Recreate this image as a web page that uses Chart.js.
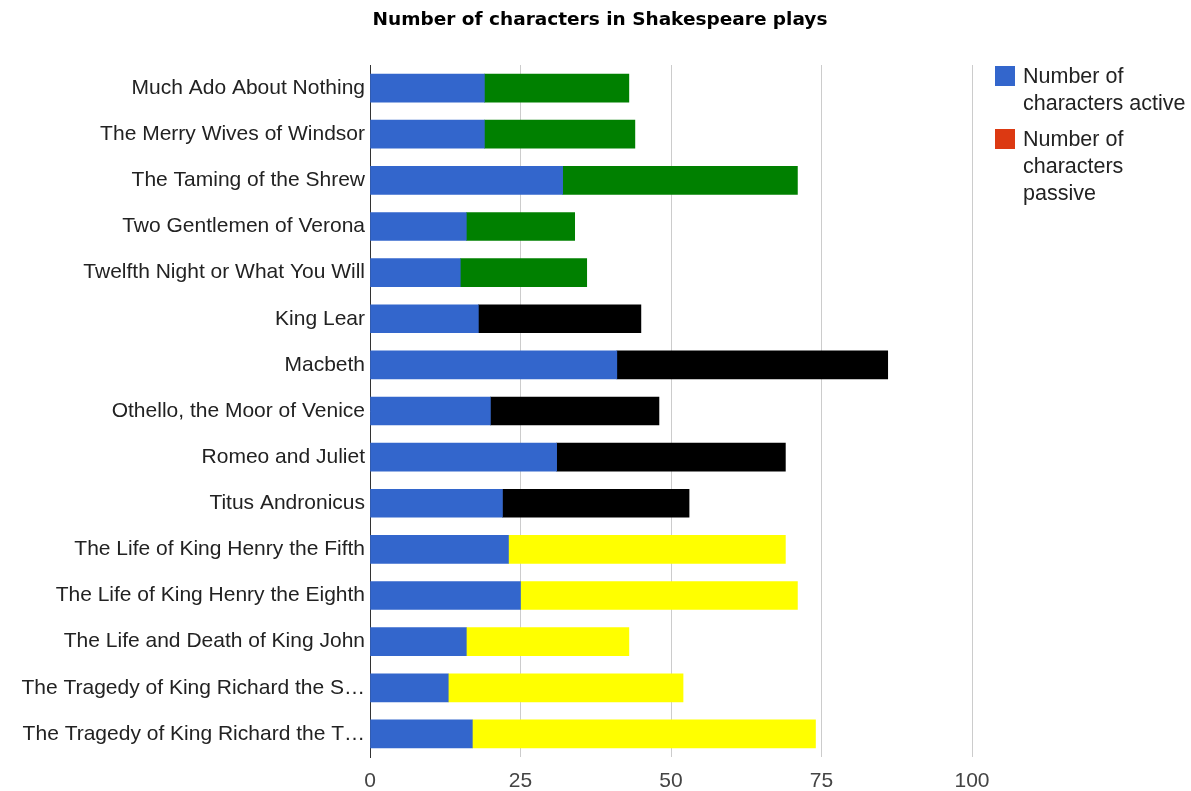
<!DOCTYPE html>
<html>
<head>
<meta charset="utf-8">
<script src="https://cdn.jsdelivr.net/npm/chart.js@4"></script>
<style>
  html, body { margin: 0; padding: 0; background: #fff; }
  #wrap { position: relative; width: 1191px; height: 791px; }
  #title {
    position: absolute; left: 300px; width: 600px; top: 7px; text-align: center;
    font-family: "DejaVu Sans", Verdana, sans-serif; font-weight: bold; font-size: 18.5px;
    line-height: 24px; color: #000;
  }
  #legend {
    position: absolute; left: 995px; top: 63px;
    font-family: "Liberation Sans", Arial, sans-serif; font-size: 21.5px; color: #222;
    line-height: 27px;
  }
  .item { display: flex; align-items: flex-start; margin-bottom: 9px; }
  .swatch { width: 20px; height: 20px; margin: 3px 8px 0 0; flex: none; }
</style>
</head>
<body>
<div id="wrap">
  <canvas id="chart" width="1191" height="791"></canvas>
  <div id="title">Number of characters in Shakespeare plays</div>
  <div id="legend">
    <div class="item"><span class="swatch" style="background:#3366cc"></span><span>Number of<br>characters active</span></div>
    <div class="item"><span class="swatch" style="background:#dc3912"></span><span>Number of<br>characters<br>passive</span></div>
  </div>
</div>
<script>
"use strict";

const plays = [
  "Much Ado About Nothing",
  "The Merry Wives of Windsor",
  "The Taming of the Shrew",
  "Two Gentlemen of Verona",
  "Twelfth Night or What You Will",
  "King Lear",
  "Macbeth",
  "Othello, the Moor of Venice",
  "Romeo and Juliet",
  "Titus Andronicus",
  "The Life of King Henry the Fifth",
  "The Life of King Henry the Eighth",
  "The Life and Death of King John",
  "The Tragedy of King Richard the Second",
  "The Tragedy of King Richard the Third",
];
const genres = [
  "comedy", "comedy", "comedy", "comedy", "comedy",
  "tragedy", "tragedy", "tragedy", "tragedy", "tragedy",
  "history", "history", "history", "history", "history",
];
const active = [19, 19, 32, 16, 15, 18, 41, 20, 31, 22, 23, 25, 16, 13, 17];
const passive = [24, 25, 39, 18, 21, 27, 45, 28, 38, 31, 46, 46, 27, 39, 57];
const xTicks = [0, 25, 50, 75, 100];

// genre -> bar colour for the passive segment
const GENRE_COLOR = { comedy: "#008000", tragedy: "#000000", history: "#ffff00" };

const FONT = "'Liberation Sans', Arial, sans-serif";

new Chart(document.getElementById("chart"), {
  type: "bar",
  data: {
    labels: plays,
    datasets: [
      {
        label: "Number of characters active",
        data: active,
        backgroundColor: "#3366cc",
      },
      {
        label: "Number of characters passive",
        data: passive,
        backgroundColor: genres.map((g) => GENRE_COLOR[g]),
      },
    ],
  },
  options: {
    indexAxis: "y",
    responsive: false,
    animation: false,
    barThickness: 28,
    layout: { padding: { left: 0, right: 219, top: 65, bottom: 0 } },
    scales: {
      x: {
        stacked: true,
        min: 0,
        max: 100,
        afterBuildTicks: (s) => { s.ticks = xTicks.map((v) => ({ value: v })); },
        afterFit: (s) => { s.height = 34; },
        grid: {
          drawTicks: false,
          color: (c) => (c.tick && c.tick.value === 0 ? "rgba(0,0,0,0)" : "#cccccc"),
        },
        border: { display: false },
        ticks: { color: "#444", font: { family: FONT, size: 21 }, padding: 12 },
      },
      y: {
        stacked: true,
        afterFit: (s) => { s.width = 370; },
        grid: { display: false, drawTicks: false },
        border: { display: true, color: "#333", width: 1 },
        ticks: {
          color: "#222",
          padding: 5,
          font: { family: FONT, size: 21 },
          callback: function (v) {
            const t = this.getLabelForValue(v);
            return t.length > 34 ? t.slice(0, 33) + "…" : t;
          },
        },
      },
    },
    plugins: {
      legend: { display: false },
      tooltip: { enabled: false },
    },
  },
});
</script>
</body>
</html>
